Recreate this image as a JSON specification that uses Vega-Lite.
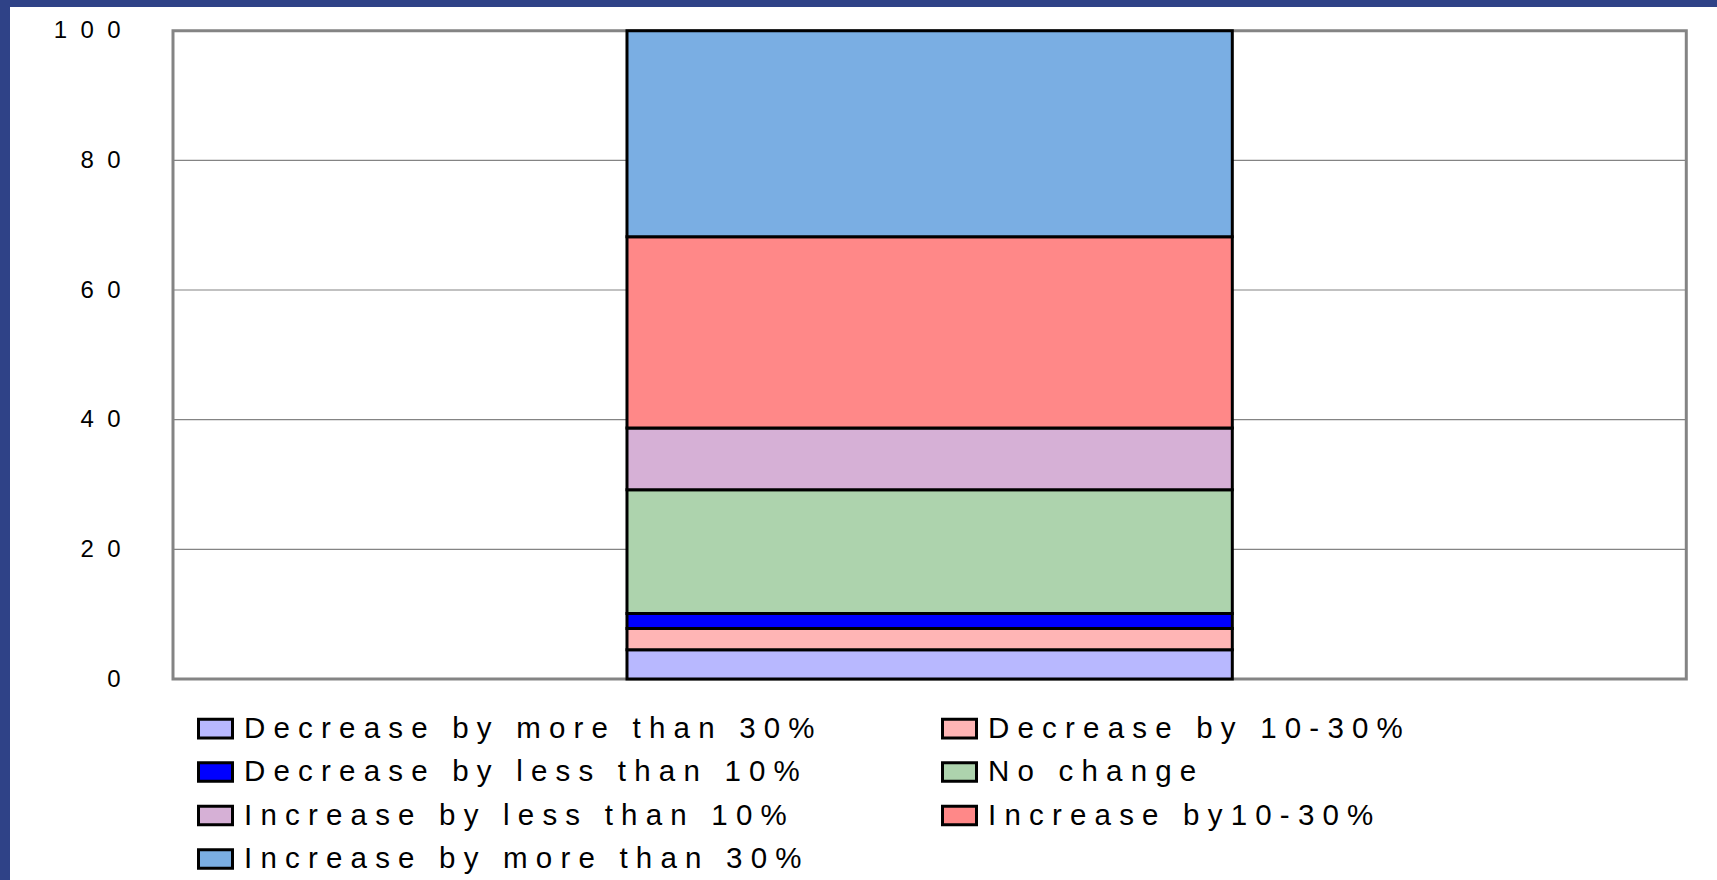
{
  "$schema": "https://vega.github.io/schema/vega-lite/v6.json",
  "width": 1707,
  "height": 873,
  "autosize": {"type": "none"},
  "padding": {"left": 10, "top": 7, "right": 0, "bottom": 0},
  "background": "#2F4287",
  "config": {
    "view": {"fill": "white", "stroke": null},
    "font": "Liberation Sans"
  },
  "datasets": {
    "shares": [
      {"category": "Decrease by more than 30%", "share": 4.5, "rank": 1},
      {"category": "Decrease by 10-30%", "share": 3.3, "rank": 2},
      {"category": "Decrease by less than 10%", "share": 2.3, "rank": 3},
      {"category": "No change", "share": 19.1, "rank": 4},
      {"category": "Increase by less than 10%", "share": 9.5, "rank": 5},
      {"category": "Increase by10-30%", "share": 29.5, "rank": 6},
      {"category": "Increase by more than 30%", "share": 31.8, "rank": 7}
    ],
    "grid": [{"tick": 0}, {"tick": 20}, {"tick": 40}, {"tick": 60}, {"tick": 80}, {"tick": 100}]
  },
  "resolve": {"axis": {"x": "independent", "y": "independent"}},
  "layer": [
    {
      "data": {"values": [{"frame": "plot area"}]},
      "mark": {"type": "rect", "fill": "white", "stroke": "#848484", "strokeWidth": 3},
      "encoding": {
        "x": {"datum": 0, "type": "quantitative", "scale": {"domain": [-0.10771, 1.02029], "nice": false, "zero": false}, "axis": null},
        "x2": {"datum": 1},
        "y": {"datum": 0, "type": "quantitative", "scale": {"domain": [-31.004, 103.656], "nice": false, "zero": false}, "axis": null},
        "y2": {"datum": 100}
      }
    },
    {
      "data": {"name": "grid"},
      "transform": [{"filter": "datum.tick > 0 && datum.tick < 100"}],
      "mark": {"type": "rule", "color": "#848484", "strokeWidth": 1.2},
      "encoding": {
        "x": {"datum": 0, "type": "quantitative", "axis": null},
        "x2": {"datum": 1},
        "y": {"field": "tick", "type": "quantitative",
          "axis": {
            "orient": "left", "offset": -110, "labelPadding": 0, "ticks": false, "domain": false, "grid": false,
            "values": [0, 20, 40, 60, 80, 100], "title": null,
            "labelExpr": "join(split(datum.label, ''), '\u00a0\u00a0')",
            "labelFontSize": 24, "labelColor": "black", "labelFont": "Liberation Sans",
            "labelFlush": false, "labelOverlap": false, "labelBaseline": "middle"
          }
        }
      }
    },
    {
      "data": {"name": "shares"},
      "transform": [
        {"stack": "share", "groupby": [], "sort": [{"field": "rank", "order": "ascending"}], "as": ["y0", "y1"]}
      ],
      "mark": {"type": "rect", "stroke": "black", "strokeWidth": 3},
      "encoding": {
        "x": {"datum": 0.3, "type": "quantitative", "axis": null},
        "x2": {"datum": 0.7},
        "y": {"field": "y0", "type": "quantitative", "axis": null},
        "y2": {"field": "y1"},
        "color": {
          "field": "category", "type": "nominal",
          "scale": {
            "domain": ["Decrease by more than 30%", "Decrease by less than 10%", "Increase by less than 10%", "Increase by more than 30%", "Decrease by 10-30%", "No change", "Increase by10-30%"],
            "range": ["#B8B8FF", "#0000FF", "#D6B0D6", "#7AAEE3", "#FFB5B5", "#ADD3AD", "#FF8888"]
          },
          "legend": {
            "orient": "none", "legendX": 187, "legendY": 703, "columns": 2, "columnPadding": 121, "rowPadding": 9.5,
            "padding": 0, "title": null,
            "symbolType": "M-1,-0.55H1V0.55H-1Z", "symbolSize": 1156, "symbolStrokeColor": "black", "symbolStrokeWidth": 3, "symbolOpacity": 1,
            "labelFontSize": 29.5, "labelFont": "Liberation Sans", "labelColor": "black", "labelLimit": 900, "labelOffset": 10,
            "labelExpr": "join(split(datum.label, ''), '\u00a0')"
          }
        }
      }
    }
  ]
}
